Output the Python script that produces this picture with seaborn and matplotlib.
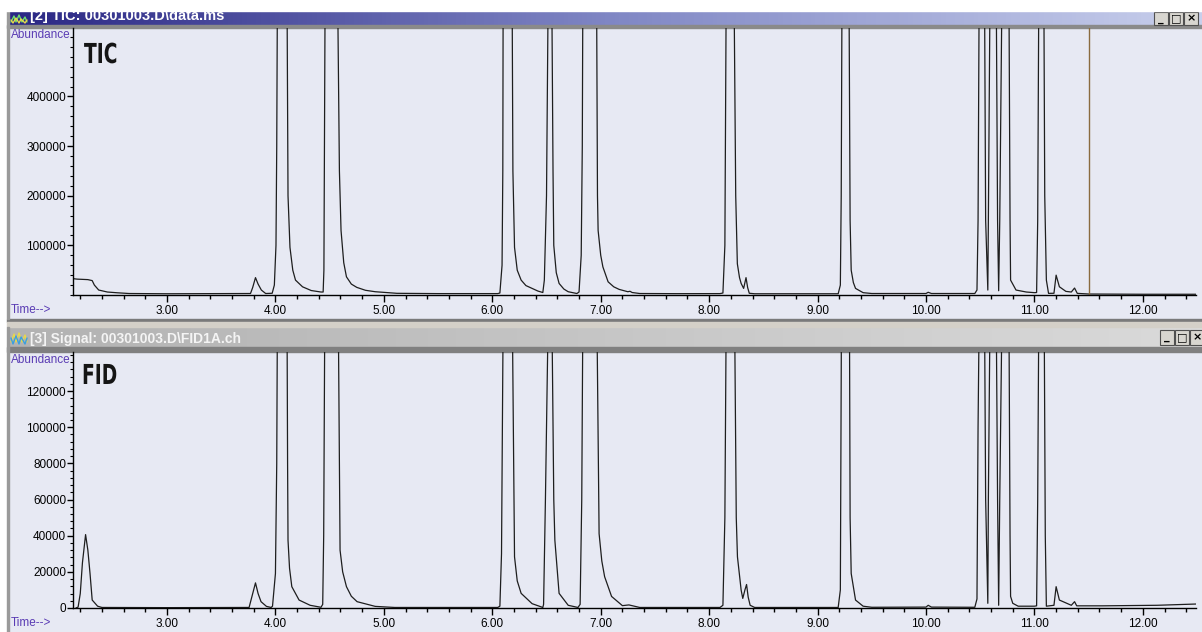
import numpy as np
import pandas as pd
import seaborn as sns
import matplotlib.pyplot as plt
from matplotlib.patches import Rectangle, PathPatch
from matplotlib.textpath import TextPath
from matplotlib.font_manager import FontProperties
from matplotlib.transforms import Affine2D
from matplotlib.colors import LinearSegmentedColormap
from matplotlib.ticker import FixedLocator, MultipleLocator, FormatStrFormatter

# --- data (time in min, abundance) ---
tic_time = [
    2.133, 2.17, 2.22, 2.27, 2.31, 2.33, 2.37, 2.45, 2.54, 2.65, 3.00, 3.50, 3.77,
    3.79, 3.816, 3.84, 3.87, 3.91,
    3.97, 3.99, 4.005, 4.012, 4.018, 4.06, 4.107, 4.116, 4.134, 4.16, 4.185, 4.25, 4.33, 4.42, 4.44,
    4.447, 4.452, 4.458, 4.52, 4.574, 4.59, 4.605, 4.63, 4.655, 4.70, 4.75, 4.83, 4.92, 5.12, 5.50, 6.05,
    6.07, 6.09, 6.097, 6.10, 6.14, 6.183, 6.19, 6.205, 6.23, 6.266, 6.31, 6.367, 6.42, 6.466,
    6.48, 6.50, 6.515, 6.53, 6.549, 6.56, 6.567, 6.59, 6.616, 6.66, 6.70, 6.78,
    6.80, 6.82, 6.83, 6.835, 6.90, 6.962, 6.97, 6.976, 7.00, 7.02, 7.068, 7.12, 7.17, 7.25, 7.27, 7.29, 7.36, 7.70, 8.10,
    8.127, 8.145, 8.15, 8.157, 8.19, 8.23, 8.245, 8.26, 8.28, 8.295, 8.318, 8.33, 8.34, 8.355, 8.37, 8.42, 9.00, 9.19,
    9.21, 9.218, 9.225, 9.26, 9.29, 9.30, 9.31, 9.33, 9.35, 9.42, 9.50, 10.00, 10.02, 10.05, 10.45,
    10.47, 10.48, 10.49, 10.515, 10.54, 10.55, 10.57, 10.575, 10.59, 10.62, 10.648, 10.66, 10.67, 10.68,
    10.70, 10.73, 10.765, 10.775, 10.78, 10.83, 10.925, 11.00, 11.02,
    11.03, 11.04, 11.065, 11.087, 11.095, 11.11, 11.13, 11.18, 11.20, 11.23, 11.29, 11.34, 11.37, 11.395,
    11.50, 12.00, 12.49]
tic_abund = [
    33000, 32000, 31500, 31000, 29000, 20000, 10000, 6000, 4500, 3000, 2500, 2800, 3000,
    15000, 35000, 22000, 10000, 3000,
    3500, 20000, 100000, 300000, 600000, 1200000, 600000, 200000, 96000, 50000, 30000, 16500, 9000, 6000, 6000,
    50000, 300000, 600000, 1500000, 600000, 250000, 130000, 65000, 36600, 22000, 15400, 9500, 6600, 3400, 2800, 2800,
    4000, 60000, 250000, 600000, 1200000, 600000, 250000, 96000, 50000, 30000, 19000, 13300, 8000, 5000,
    30000, 200000, 600000, 1000000, 600000, 250000, 100000, 45000, 23300, 12000, 6600, 3000,
    6000, 80000, 300000, 600000, 1500000, 600000, 200000, 130000, 80000, 56600, 26600, 16500, 11300, 6600, 7500, 5000, 3000, 2700, 2800,
    4000, 100000, 300000, 600000, 1200000, 600000, 200000, 63000, 35000, 23300, 13300, 25000, 35000, 15000, 3500, 2500, 2500, 2500,
    20000, 200000, 600000, 1200000, 600000, 150000, 50000, 25000, 13300, 4700, 3000, 3000, 5500, 3000, 3000,
    10000, 150000, 600000, 1000000, 600000, 150000, 10000, 150000, 600000, 1000000, 600000, 150000, 8600, 150000,
    600000, 1000000, 600000, 150000, 30000, 10000, 6000, 4700, 5000,
    150000, 600000, 1000000, 600000, 200000, 30000, 3300, 3500, 40000, 16600, 7300, 6000, 14000, 3300,
    2000, 1500, 1500]

fid_time = [
    2.16, 2.18, 2.20, 2.22, 2.249, 2.27, 2.29, 2.31, 2.36, 2.40, 3.00, 3.50, 3.757,
    3.79, 3.816, 3.84, 3.867, 3.917, 3.96,
    3.973, 4.00, 4.012, 4.018, 4.06, 4.107, 4.112, 4.116, 4.13, 4.151, 4.218, 4.32, 4.42,
    4.436, 4.445, 4.455, 4.52, 4.58, 4.596, 4.62, 4.655, 4.70, 4.753, 4.92, 5.10, 6.05,
    6.07, 6.085, 6.10, 6.14, 6.185, 6.205, 6.23, 6.266, 6.367, 6.466,
    6.473, 6.49, 6.515, 6.535, 6.55, 6.567, 6.577, 6.616, 6.70, 6.79,
    6.81, 6.825, 6.835, 6.90, 6.965, 6.985, 7.01, 7.036, 7.10, 7.20, 7.26, 7.36, 8.10,
    8.127, 8.145, 8.157, 8.19, 8.235, 8.25, 8.261, 8.295, 8.31, 8.33, 8.345, 8.36, 8.378, 8.42, 9.19,
    9.21, 9.22, 9.26, 9.294, 9.30, 9.31, 9.35, 9.42, 9.50, 10.00, 10.02, 10.05, 10.45,
    10.47, 10.48, 10.49, 10.515, 10.54, 10.55, 10.57, 10.575, 10.59, 10.62, 10.648, 10.66, 10.67, 10.68,
    10.70, 10.73, 10.765, 10.775, 10.78, 10.80, 10.85, 11.00, 11.02,
    11.03, 11.04, 11.065, 11.09, 11.10, 11.11, 11.18, 11.20, 11.23, 11.34, 11.37, 11.39, 11.63, 12.13, 12.49]
fid_abund = [
    0, 500, 8000, 25000, 40600, 32000, 19100, 4400, 1000, 300, 200, 300, 300,
    8000, 13900, 8000, 3500, 900, 300,
    1000, 19100, 80000, 160000, 300000, 160000, 80000, 37500, 22000, 11800, 4400, 1500, 400,
    2000, 40000, 160000, 350000, 160000, 32000, 20000, 11800, 6500, 3500, 900, 300, 300,
    1000, 30000, 160000, 300000, 160000, 28300, 15000, 8100, 2400, 300,
    2000, 60000, 160000, 250000, 160000, 60000, 37500, 8100, 1500, 300,
    2000, 60000, 160000, 350000, 160000, 41100, 26000, 17300, 6400, 1300, 1700, 300, 300,
    1500, 50000, 160000, 300000, 160000, 50000, 28300, 9900, 5300, 10000, 13000, 6000, 1500, 300, 300,
    10000, 160000, 300000, 160000, 50000, 19100, 4400, 1000, 400, 500, 1500, 500, 400,
    5000, 100000, 160000, 250000, 160000, 60000, 2600, 60000, 160000, 250000, 160000, 60000, 1500, 60000,
    160000, 250000, 160000, 40000, 6400, 2600, 1000, 1000, 1200,
    60000, 160000, 250000, 160000, 40000, 1000, 1500, 11800, 4400, 1500, 3500, 1200, 1200, 1500, 2200]

x_ticks = [3, 4, 5, 6, 7, 8, 9, 10, 11, 12]
tic_yticks = [100000, 200000, 300000, 400000]
fid_yticks = [0, 20000, 40000, 60000, 80000, 100000, 120000]
cursor_time = 11.5

tic = pd.DataFrame({'time': tic_time, 'abundance': tic_abund})
fid = pd.DataFrame({'time': fid_time, 'abundance': fid_abund})

sns.set_style('ticks')
plt.rcParams['font.family'] = ['Liberation Sans', 'DejaVu Sans']

W, H = 1202, 632
LAV = '#e7e9f3'
PURPLE = '#5a3cb4'
fig = plt.figure(figsize=(W / 100, H / 100), dpi=100)

# window chrome drawn in pixel coordinates
bg = fig.add_axes([0, 0, 1, 1])
top_cm = LinearSegmentedColormap.from_list('tb', ['#2a2784', '#7f86c4', '#c8cfec'])
gray_cm = LinearSegmentedColormap.from_list('gb', ['#b2b2b2', '#dadada'])
grad = np.linspace(0, 1, 256)[None, :]
bg.imshow(grad, cmap=top_cm, extent=[9, W, 25, 11], aspect='auto', zorder=1)
bg.imshow(grad, cmap=gray_cm, extent=[9, W, 347, 327], aspect='auto', zorder=1)
bg.set_xlim(0, W)
bg.set_ylim(H, 0)
bg.axis('off')

bg.add_patch(Rectangle((9, 28), W - 9, 291, color=LAV, zorder=1))
bg.add_patch(Rectangle((9, 352), W - 9, H - 352, color=LAV, zorder=1))
bg.add_patch(Rectangle((7, 25), W - 7, 3, color='#8a8a8a', zorder=2))
bg.add_patch(Rectangle((7, 319), W - 7, 3, color='#7a7a7a', zorder=2))
bg.add_patch(Rectangle((7, 322), W - 7, 5, color='#d4d0c8', zorder=2))
bg.add_patch(Rectangle((7, 347), W - 7, 5, color='#808080', zorder=2))
bg.add_patch(Rectangle((7, 11), 2, 308, color='#9a9a9a', zorder=2))
bg.add_patch(Rectangle((7, 327), 2, H - 327, color='#9a9a9a', zorder=2))

bg.text(30, 20, '[2] TIC: 00301003.D\\data.ms', color='white', fontsize=10.5,
        fontweight='bold', va='baseline', zorder=3)
bg.text(30, 343, '[3] Signal: 00301003.D\\FID1A.ch', color='#f4f4f4', fontsize=10,
        fontweight='bold', va='baseline', zorder=3)
bg.add_patch(Rectangle((0, 0), W, 11, color='white', zorder=4))

# small title bar icons
bg.plot([11, 14, 16, 19, 22, 25, 27], [22, 16, 22, 15, 22, 17, 22], color='#6ee06e', lw=1, zorder=3)
bg.plot([11, 13, 16, 19, 21, 25, 27], [20, 23, 18, 23, 19, 23, 20], color='#e8d84a', lw=1, zorder=3)
bg.plot([11, 14, 16, 19, 22, 25, 27], [342, 334, 342, 333, 342, 335, 342], color='#e8d84a', lw=1, zorder=3)
bg.plot([11, 13, 16, 19, 21, 25, 27], [338, 344, 336, 344, 337, 344, 338], color='#3aa0e0', lw=1, zorder=3)

# window buttons
for (x0, y0, h) in [(1154, 12, 13), (1160, 330, 15)]:
    for i, g in enumerate(['_', '\u25a1', '\u00d7']):
        bx = x0 + i * 15
        bg.add_patch(Rectangle((bx, y0), 14, h, facecolor='#d8d6d0', edgecolor='#505050', lw=0.8, zorder=3))
        bg.text(bx + 7, y0 + h / 2, g, ha='center', va='center', fontsize=8, color='black',
                family=['DejaVu Sans'], fontweight='bold', zorder=3)

# panel labels
for y, txt in [(35, 'Abundance'), (360, 'Abundance'), (310, 'Time-->'), (623, 'Time-->')]:
    bg.text(11, y, txt, color=PURPLE, fontsize=8.5, va='center', ha='left', zorder=3)

# condensed bold "TIC" / "FID" tags (horizontally squeezed text outline)
bold = FontProperties(family='DejaVu Sans', weight='bold')
for x, y, txt in [(84, 63, 'TIC'), (82, 384, 'FID')]:
    tp = TextPath((0, 0), txt, size=27.5, prop=bold)
    tr = Affine2D().scale(0.68, -1.0).translate(x, y)
    bg.add_patch(PathPatch(tr.transform_path(tp), facecolor='#151515', edgecolor='none', zorder=3))


def px_axes(left, top, right, bottom):
    return fig.add_axes([left / W, 1 - bottom / H, (right - left) / W, (bottom - top) / H])


ax_tic = px_axes(73, 28, 1196, 295)
ax_fid = px_axes(73, 352, 1196, 608)

for ax, df, ymax, yt, yminor in [(ax_tic, tic, 538000, tic_yticks, 20000),
                                  (ax_fid, fid, 141600, fid_yticks, 4000)]:
    ax.set_facecolor('none')
    sns.lineplot(data=df, x='time', y='abundance', ax=ax, color='#1e1e1e', linewidth=0.9,
                 estimator=None, sort=False)
    ax.set_xlim(2.133, 12.49)
    ax.set_ylim(0, ymax)
    ax.set_xlabel('')
    ax.set_ylabel('')
    for s in ['top', 'right']:
        ax.spines[s].set_visible(False)
    for s in ['left', 'bottom']:
        ax.spines[s].set_color('black')
        ax.spines[s].set_linewidth(1.0)
    ax.xaxis.set_major_locator(FixedLocator(x_ticks))
    ax.xaxis.set_major_formatter(FormatStrFormatter('%.2f'))
    ax.xaxis.set_minor_locator(MultipleLocator(0.2))
    ax.yaxis.set_major_locator(FixedLocator(yt))
    ax.yaxis.set_major_formatter(FormatStrFormatter('%d'))
    ax.yaxis.set_minor_locator(MultipleLocator(yminor))
    ax.tick_params(axis='x', which='major', length=5, width=1, pad=2.5, labelsize=8.5, colors='black')
    ax.tick_params(axis='x', which='minor', length=3, width=1, colors='black')
    ax.tick_params(axis='y', which='major', length=4, width=1, pad=1, labelsize=8.5, colors='black')
    ax.tick_params(axis='y', which='minor', length=2.5, width=0.8, colors='black')

ax_tic.axvline(cursor_time, color='#8a6b3f', lw=1)

fig.savefig('out.png', dpi=100)
